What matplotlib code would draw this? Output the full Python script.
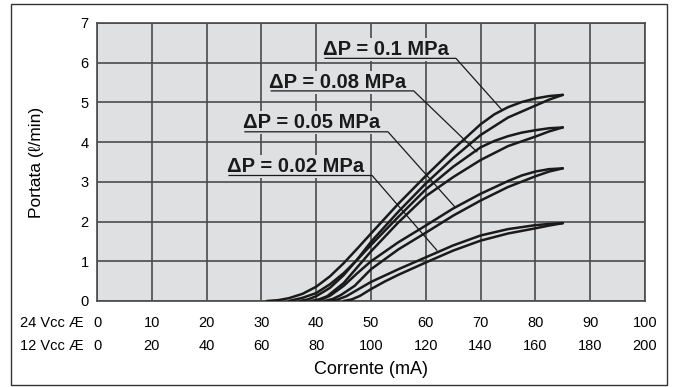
import matplotlib
matplotlib.use("Agg")
from matplotlib import pyplot as plt
from matplotlib.patches import Rectangle

# current axis (24 V scale, mA) and flow values for each hysteresis branch
x_01_up = [31, 33, 35, 37.5, 40, 42.5, 45, 47.5, 50, 55, 60, 65, 70, 72.5, 75, 77.5, 80, 82.5, 85]
y_01_up = [0, 0.02, 0.07, 0.18, 0.36, 0.62, 0.95, 1.32, 1.70, 2.45, 3.15, 3.82, 4.45, 4.70, 4.88, 5.01, 5.10, 5.16, 5.19]
x_01_dn = [37, 38.5, 40, 42.5, 45, 47.5, 50, 55, 60, 65, 70, 75, 80, 82.5, 85]
y_01_dn = [0, 0.04, 0.12, 0.33, 0.65, 1.05, 1.49, 2.25, 2.96, 3.60, 4.18, 4.62, 4.92, 5.07, 5.19]

x_008_up = [35, 37.5, 40, 42.5, 45, 47.5, 50, 55, 60, 65, 70, 72.5, 75, 77.5, 80, 82.5, 85]
y_008_up = [0, 0.08, 0.20, 0.42, 0.70, 1.04, 1.41, 2.12, 2.81, 3.38, 3.87, 4.03, 4.15, 4.24, 4.30, 4.35, 4.37]
x_008_dn = [39, 40.5, 42, 45, 47.5, 50, 55, 60, 65, 70, 75, 80, 82.5, 85]
y_008_dn = [0, 0.04, 0.12, 0.45, 0.85, 1.25, 1.98, 2.64, 3.12, 3.55, 3.90, 4.14, 4.27, 4.37]

x_005_up = [39.5, 41, 42.5, 45, 47.5, 50, 55, 60, 65, 70, 75, 77.5, 80, 82.5, 85]
y_005_up = [0, 0.04, 0.13, 0.38, 0.70, 1.00, 1.48, 1.90, 2.33, 2.70, 3.02, 3.16, 3.26, 3.32, 3.34]
x_005_dn = [41.5, 43, 44.5, 47, 50, 55, 60, 65, 70, 75, 80, 82.5, 85]
y_005_dn = [0, 0.05, 0.15, 0.38, 0.80, 1.30, 1.72, 2.15, 2.53, 2.87, 3.14, 3.26, 3.34]

x_002_up = [42.5, 44, 45.5, 47.5, 50, 55, 60, 65, 70, 75, 80, 82.5, 85]
y_002_up = [0, 0.04, 0.12, 0.28, 0.48, 0.80, 1.10, 1.40, 1.65, 1.81, 1.91, 1.94, 1.96]
x_002_dn = [45, 46.5, 48, 50, 52.5, 55, 60, 65, 70, 75, 80, 82.5, 85]
y_002_dn = [0, 0.04, 0.13, 0.30, 0.49, 0.66, 0.97, 1.27, 1.52, 1.70, 1.83, 1.90, 1.96]

ticks_24v = [0, 10, 20, 30, 40, 50, 60, 70, 80, 90, 100]
ticks_12v = [0, 20, 40, 60, 80, 100, 120, 140, 160, 180, 200]

labels = ["\u0394P = 0.1 MPa", "\u0394P = 0.08 MPa", "\u0394P = 0.05 MPa", "\u0394P = 0.02 MPa"]
# text anchor (x, baseline y), underline (x0, x1, y), leader target (x, y)
label_text_pos = [(41.2, 6.19), (31.4, 5.36), (26.6, 4.36), (23.7, 3.24)]
label_line = [(41.6, 65.5, 6.11), (31.8, 57.8, 5.29), (27.0, 53.1, 4.26), (24.1, 50.2, 3.16)]
label_target = [(73.9, 4.81), (69.3, 3.76), (65.3, 2.37), (62.0, 1.28)]

BG = "#dfe0e2"
GRID = "#4a4a4a"

plt.rcParams["font.family"] = ["Liberation Sans", "DejaVu Sans"]

fig = plt.figure(figsize=(6.75, 3.87), dpi=100)
fig.patches.append(Rectangle((11 / 675, 2 / 387), 656 / 675, 381 / 387,
                             transform=fig.transFigure, fill=False,
                             edgecolor="#333333", linewidth=1.0))

ax = fig.add_axes([97 / 675, 1 - 301 / 387, 548 / 675, 278 / 387])
ax.set_facecolor(BG)
ax.set_xlim(0, 100)
ax.set_ylim(0, 7)
ax.set_xticks(ticks_24v)
ax.set_yticks(range(8))
ax.grid(True, color=GRID, linewidth=1.2)
ax.set_axisbelow(True)
for s in ax.spines.values():
    s.set_color(GRID)
    s.set_linewidth(1.2)
ax.tick_params(length=0, labelsize=10.5, pad=6)
ax.set_xticklabels([])

curves = [
    (x_01_up, y_01_up), (x_01_dn, y_01_dn),
    (x_008_up, y_008_up), (x_008_dn, y_008_dn),
    (x_005_up, y_005_up), (x_005_dn, y_005_dn),
    (x_002_up, y_002_up), (x_002_dn, y_002_dn),
]
for xs, ys in curves:
    ax.plot(xs, ys, color="#1a1a1a", linewidth=1.8, solid_joinstyle="round",
            solid_capstyle="round", zorder=3)

for lab, (tx, ty), (lx0, lx1, ly), (gx, gy) in zip(labels, label_text_pos, label_line, label_target):
    ax.text(tx, ty, lab, fontsize=14.5, fontweight="bold", color="#1a1a1a",
            ha="left", va="baseline", zorder=4,
            bbox=dict(facecolor=BG, edgecolor="none", pad=1.5))
    ax.plot([lx0, lx1, gx], [ly, ly, gy], color="#1a1a1a", linewidth=0.9, zorder=4)

# two rows of current tick labels
tr = ax.get_xaxis_transform()
for v24, v12 in zip(ticks_24v, ticks_12v):
    ax.text(v24, -0.08, str(v24), transform=tr, ha="center", va="center", fontsize=10.5, clip_on=False)
    ax.text(v24, -0.162, str(v12), transform=tr, ha="center", va="center", fontsize=10.5, clip_on=False)
fig.text(20 / 675, 1 - 323 / 387, "24 Vcc \u00c6", ha="left", va="center", fontsize=10.5)
fig.text(20 / 675, 1 - 346 / 387, "12 Vcc \u00c6", ha="left", va="center", fontsize=10.5)

fig.text(371 / 675, 1 - 369 / 387, "Corrente (mA)", ha="center", va="center", fontsize=13)
fig.text(36 / 675, 1 - 162 / 387, "Portata (\u2113/min)", ha="center", va="center",
         rotation=90, fontsize=12.5)

fig.savefig("out.png", dpi=100, facecolor="white")
